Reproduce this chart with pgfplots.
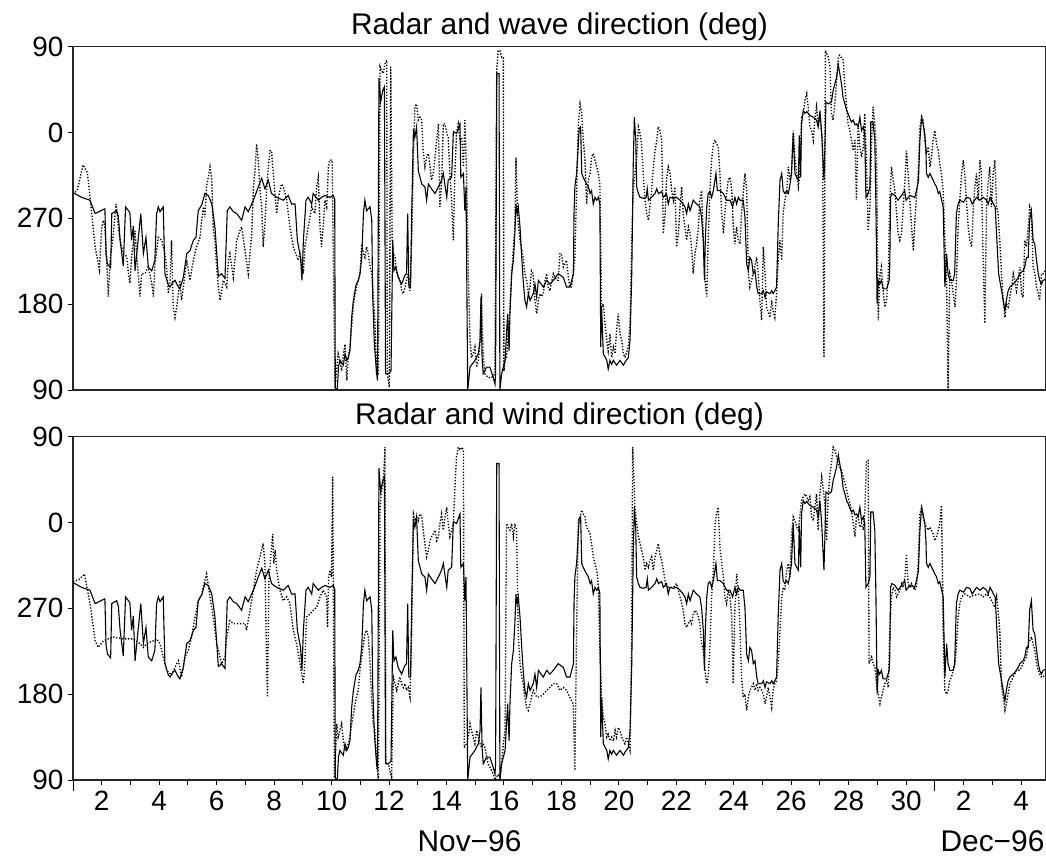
\documentclass[border=0pt]{standalone}
\usepackage{fontspec}
\setmainfont{Liberation Sans}
\usepackage{pgfplots}
\usepackage{pgfplotstable}
\pgfplotsset{compat=1.18}

% Radar direction (solid), same series in both panels; angles unwrapped to 90..450
\pgfplotstableread{
d v
1.0 297
1.3 292
1.59 289
1.77 275
2.11 280
2.15 232
2.2 222
2.31 218
2.35 275
2.52 278
2.58 272
2.64 247
2.75 220
2.83 282
2.98 276
3.04 247
3.10 262
3.16 215
3.22 233
3.36 275
3.45 233
3.54 250
3.62 219
3.74 215
3.85 226
3.91 275
3.97 282
4.03 277
4.14 282
4.20 212
4.32 200
4.38 198
4.47 203
4.55 205
4.63 200
4.72 196
4.84 208
4.96 233
5.07 236
5.19 247
5.28 250
5.36 278
5.48 284
5.59 296
5.71 294
5.83 285
5.94 261
6.06 209
6.17 212
6.29 207
6.37 278
6.46 282
6.58 277
6.70 275
6.87 268
6.99 282
7.10 277
7.22 285
7.33 293
7.45 303
7.57 312
7.68 301
7.80 310
7.91 296
8.09 292
8.32 289
8.49 294
8.61 285
8.73 285
8.81 247
8.92 229
8.97 205
9.02 247
9.11 289
9.19 292
9.31 285
9.36 296
9.54 289
9.65 292
9.77 294
9.94 292
10.06 294
10.11 290
10.13 92
10.20 90
10.24 114
10.29 121
10.41 116
10.47 128
10.53 121
10.58 124
10.64 131
10.70 166
10.76 184
10.85 200
10.93 205
10.99 212
11.05 229
11.11 275
11.16 289
11.22 278
11.34 282
11.40 268
11.43 191
11.49 138
11.57 107
11.60 100
11.65 417
11.71 392
11.78 404
11.84 408
11.88 107
11.98 107
12.07 110
12.13 247
12.17 215
12.24 219
12.32 208
12.44 201
12.55 210
12.61 212
12.65 275
12.69 198
12.75 198
12.79 275
12.85 364
12.90 355
12.96 366
13.02 320
13.14 306
13.25 303
13.31 289
13.37 306
13.48 301
13.60 296
13.72 303
13.83 310
13.89 317
14.01 292
14.06 310
14.18 313
14.24 361
14.35 359
14.47 369
14.50 313
14.59 317
14.64 278
14.68 303
14.70 233
14.74 90
14.82 114
14.99 121
15.11 128
15.17 142
15.20 187
15.24 124
15.28 107
15.40 114
15.51 114
15.63 103
15.69 96
15.71 107
15.75 422
15.83 422
15.86 90
15.92 107
16.04 121
16.13 170
16.18 131
16.21 170
16.27 212
16.33 226
16.38 254
16.42 285
16.46 275
16.50 282
16.56 261
16.62 229
16.67 205
16.73 184
16.79 177
16.85 191
16.91 184
17.02 191
17.08 201
17.14 187
17.20 205
17.37 198
17.49 205
17.60 201
17.72 205
17.89 212
18.07 208
18.18 198
18.30 198
18.42 212
18.44 275
18.47 303
18.53 317
18.62 364
18.67 366
18.71 317
18.76 313
18.88 306
18.94 303
19.00 296
19.05 299
19.11 285
19.17 292
19.23 289
19.29 292
19.34 285
19.37 135
19.40 177
19.46 128
19.58 121
19.63 112
19.69 121
19.75 117
19.81 121
19.92 116
20.04 121
20.16 116
20.21 119
20.33 124
20.39 142
20.45 212
20.50 324
20.54 376
20.59 352
20.62 303
20.68 296
20.74 292
20.85 291
20.95 292
20.99 301
21.03 289
21.14 292
21.26 296
21.32 301
21.38 296
21.49 298
21.55 292
21.66 296
21.72 285
21.78 292
21.90 291
22.01 292
22.13 289
22.24 285
22.30 282
22.36 275
22.42 285
22.48 278
22.59 289
22.71 285
22.82 282
22.88 271
22.94 247
22.98 205
23.01 247
23.06 282
23.11 296
23.17 298
23.23 292
23.29 299
23.38 317
23.43 299
23.52 299
23.64 296
23.75 289
23.87 289
23.96 282
24.04 292
24.10 285
24.16 292
24.22 289
24.33 289
24.39 271
24.45 222
24.51 215
24.56 229
24.62 226
24.68 212
24.74 215
24.80 198
24.85 191
24.97 191
25.03 194
25.09 187
25.14 193
25.26 191
25.32 194
25.37 191
25.43 194
25.49 198
25.55 264
25.61 310
25.67 317
25.72 299
25.78 296
25.84 299
25.90 296
25.96 306
26.01 317
26.07 359
26.13 317
26.19 313
26.25 310
26.28 357
26.33 313
26.36 369
26.42 383
26.48 380
26.54 382
26.59 380
26.65 378
26.77 376
26.88 373
26.94 366
27.00 383
27.06 359
27.14 310
27.17 341
27.21 392
27.29 390
27.40 392
27.46 404
27.58 418
27.64 431
27.69 422
27.75 411
27.81 396
27.87 390
27.93 383
27.98 380
28.04 375
28.10 371
28.16 373
28.22 368
28.27 369
28.33 366
28.39 376
28.45 362
28.51 366
28.56 359
28.60 292
28.68 296
28.74 303
28.77 371
28.85 371
28.91 352
28.95 282
28.99 180
29.03 205
29.08 201
29.14 205
29.20 196
29.32 196
29.41 205
29.43 219
29.46 292
29.50 296
29.61 294
29.72 289
29.84 294
29.95 299
30.00 289
30.13 294
30.30 292
30.39 303
30.43 310
30.48 352
30.54 376
30.59 369
30.65 359
30.69 341
30.71 317
30.77 313
30.83 317
30.94 310
31.00 306
31.06 303
31.12 296
31.17 298
31.29 282
31.35 198
31.41 233
31.46 212
31.52 205
31.64 205
31.69 212
31.75 275
31.81 285
31.87 289
32.00 287
32.10 292
32.22 291
32.30 285
32.45 292
32.57 289
32.68 292
32.80 289
32.86 285
32.92 292
32.98 289
33.04 285
33.10 282
33.16 247
33.22 212
33.38 184
33.44 173
33.49 184
33.55 194
33.61 198
33.73 201
33.84 205
33.90 208
33.96 212
34.07 215
34.13 219
34.19 229
34.25 229
34.30 268
34.36 278
34.42 247
34.48 243
34.54 226
34.60 212
34.65 205
34.71 201
34.77 205
34.86 206
}\radar

% Wave direction (dotted, top panel)
\pgfplotstableread{
d v
1.0 295
1.15 300
1.35 326
1.5 318
1.6 290
1.77 240
1.92 216
2.00 261
2.06 268
2.11 261
2.17 230
2.23 188
2.29 226
2.38 247
2.50 285
2.58 261
2.64 247
2.75 233
2.87 230
2.93 212
2.98 202
3.04 230
3.16 257
3.22 230
3.27 212
3.33 188
3.39 212
3.51 212
3.62 219
3.74 202
3.80 188
3.85 222
3.97 250
4.09 247
4.20 233
4.26 219
4.32 191
4.38 205
4.43 247
4.49 177
4.55 166
4.61 177
4.67 191
4.72 205
4.78 184
4.90 212
4.96 226
5.07 205
5.19 226
5.30 240
5.42 250
5.48 268
5.54 282
5.59 271
5.65 303
5.77 324
5.83 310
5.88 261
5.94 247
6.00 219
6.06 198
6.12 184
6.23 205
6.35 198
6.41 226
6.46 233
6.58 208
6.70 247
6.81 257
6.87 261
6.99 236
7.10 212
7.16 233
7.22 254
7.28 303
7.33 317
7.39 348
7.45 331
7.51 299
7.57 282
7.62 240
7.68 264
7.74 299
7.80 324
7.86 341
7.91 341
7.97 317
8.03 296
8.09 275
8.15 292
8.26 306
8.32 303
8.44 289
8.55 261
8.67 240
8.84 226
8.90 233
9.02 212
9.07 240
9.19 261
9.31 282
9.42 275
9.48 303
9.54 313
9.60 261
9.65 240
9.71 261
9.77 289
9.83 282
9.89 324
9.94 331
10.02 331
10.12 92
10.23 128
10.29 121
10.35 110
10.41 128
10.47 138
10.53 100
10.58 124
10.64 135
10.70 156
10.76 180
10.82 191
10.87 198
10.93 205
10.99 212
11.05 243
11.11 233
11.16 229
11.22 240
11.28 233
11.34 219
11.40 212
11.45 191
11.51 159
11.57 107
11.63 107
11.69 429
11.74 425
11.80 422
11.86 432
11.92 436
11.94 107
12.01 93
12.06 429
12.11 247
12.15 233
12.21 229
12.27 212
12.38 205
12.44 194
12.50 191
12.56 198
12.61 205
12.67 212
12.73 194
12.79 247
12.85 334
12.90 387
12.96 390
13.02 373
13.08 376
13.14 373
13.19 341
13.25 324
13.31 334
13.37 338
13.43 324
13.48 310
13.54 317
13.60 334
13.66 352
13.72 369
13.77 282
13.83 306
13.89 369
13.95 369
14.01 359
14.06 355
14.12 317
14.18 289
14.24 247
14.29 317
14.35 359
14.41 369
14.47 352
14.53 355
14.59 324
14.64 373
14.70 317
14.76 212
14.82 142
14.87 124
14.93 128
14.99 135
15.05 114
15.11 121
15.17 142
15.22 191
15.28 124
15.34 107
15.45 103
15.57 103
15.69 107
15.75 425
15.80 446
15.86 446
15.92 439
15.98 439
16.00 110
16.04 121
16.09 124
16.15 149
16.21 177
16.27 212
16.33 240
16.38 261
16.42 334
16.46 289
16.50 264
16.56 247
16.67 229
16.73 212
16.79 205
16.85 191
16.91 198
16.96 215
17.02 212
17.08 184
17.14 170
17.20 184
17.25 191
17.31 188
17.37 191
17.43 205
17.49 212
17.54 198
17.60 194
17.72 212
17.84 205
17.89 205
17.95 233
18.00 233
18.07 219
18.18 226
18.23 212
18.29 198
18.35 198
18.41 212
18.47 229
18.53 299
18.59 369
18.65 390
18.71 380
18.76 352
18.82 331
18.88 285
18.94 310
19.00 317
19.05 334
19.11 338
19.17 331
19.23 324
19.29 317
19.34 306
19.40 177
19.46 180
19.52 159
19.58 142
19.63 131
19.69 149
19.75 124
19.81 135
19.87 128
19.92 152
19.98 170
20.04 149
20.10 142
20.16 128
20.21 124
20.33 135
20.39 159
20.45 247
20.50 299
20.56 317
20.62 334
20.68 366
20.74 359
20.79 348
20.85 317
20.91 289
20.97 275
21.03 268
21.08 282
21.14 299
21.20 324
21.26 341
21.32 352
21.37 366
21.43 362
21.49 352
21.55 254
21.61 275
21.66 310
21.72 324
21.78 317
21.84 299
21.90 289
21.95 303
22.01 240
22.07 254
22.13 282
22.19 303
22.24 275
22.30 261
22.36 247
22.42 261
22.48 254
22.53 240
22.59 212
22.65 233
22.71 243
22.77 261
22.82 289
22.88 299
22.94 247
23.00 205
23.06 188
23.11 247
23.17 299
23.23 331
23.29 348
23.35 352
23.40 348
23.46 345
23.52 317
23.58 275
23.64 254
23.69 275
23.75 296
23.81 310
23.87 313
23.93 299
23.98 264
24.04 243
24.10 261
24.16 247
24.22 243
24.27 275
24.33 296
24.39 317
24.45 299
24.51 212
24.56 198
24.68 212
24.80 229
24.85 212
24.91 184
24.97 163
25.03 240
25.09 212
25.14 177
25.26 166
25.32 184
25.37 173
25.43 166
25.49 191
25.55 229
25.61 247
25.67 226
25.72 275
25.78 289
25.84 296
25.90 324
25.96 310
26.01 317
26.07 362
26.13 334
26.19 317
26.25 303
26.30 317
26.36 376
26.42 380
26.48 394
26.54 401
26.59 387
26.65 366
26.71 362
26.77 352
26.82 373
26.88 387
26.94 369
26.99 376
27.09 352
27.14 124
27.19 446
27.29 439
27.35 429
27.40 380
27.46 373
27.52 390
27.58 415
27.64 439
27.69 441
27.81 436
27.87 408
27.93 387
27.98 369
28.04 362
28.10 352
28.16 341
28.22 352
28.27 289
28.33 369
28.39 345
28.45 334
28.51 345
28.56 380
28.62 327
28.68 257
28.74 282
28.80 352
28.85 387
28.91 369
28.97 334
29.03 163
29.09 212
29.14 219
29.20 194
29.26 177
29.32 184
29.38 212
29.43 289
29.49 324
29.55 310
29.61 299
29.67 275
29.72 254
29.78 247
29.84 254
29.90 282
29.96 310
30.01 341
30.07 317
30.13 289
30.19 261
30.25 236
30.30 264
30.36 292
30.42 317
30.48 366
30.54 376
30.59 373
30.65 352
30.71 338
30.77 345
30.83 324
30.88 334
30.94 352
31.00 362
31.06 348
31.12 341
31.17 327
31.23 317
31.29 299
31.35 247
31.41 205
31.46 90
31.52 212
31.58 205
31.64 191
31.70 177
31.75 205
31.81 261
31.87 289
31.93 317
31.99 331
32.04 317
32.10 289
32.16 261
32.22 247
32.28 240
32.33 275
32.39 303
32.45 317
32.51 289
32.57 331
32.62 317
32.68 229
32.74 160
32.80 282
32.86 310
32.91 324
32.97 282
33.03 317
33.09 331
33.15 282
33.20 275
33.26 247
33.32 212
33.38 184
33.44 166
33.49 180
33.55 177
33.61 187
33.67 198
33.73 212
33.78 205
33.84 194
33.90 205
33.96 219
34.02 191
34.07 187
34.13 247
34.19 240
34.25 261
34.30 282
34.36 275
34.42 219
34.48 212
34.54 198
34.60 191
34.65 184
34.71 212
34.77 212
34.83 215
}\wave

% Wind direction (dotted, bottom panel)
\pgfplotstableread{
d v
1.0 298
1.2 300
1.4 306
1.59 275
1.71 250
1.77 236
1.88 229
2.06 236
2.40 240
2.75 238
3.10 238
3.33 233
3.45 229
3.57 233
3.80 236
3.91 238
4.03 233
4.14 219
4.26 205
4.43 200
4.61 212
4.67 215
4.78 198
4.90 219
5.01 226
5.13 240
5.25 261
5.36 278
5.48 285
5.59 299
5.65 306
5.77 282
5.88 261
6.00 233
6.12 219
6.17 212
6.29 219
6.35 240
6.46 257
6.58 254
6.81 254
6.99 254
7.04 247
7.16 268
7.28 289
7.39 310
7.51 324
7.62 338
7.68 317
7.74 212
7.77 177
7.82 300
7.91 334
7.95 348
7.99 317
8.04 331
8.09 310
8.20 289
8.32 278
8.44 282
8.55 275
8.67 247
8.78 233
8.90 212
9.02 191
9.07 212
9.13 261
9.25 264
9.36 268
9.48 271
9.60 282
9.71 289
9.83 282
9.86 250
9.90 303
9.94 310
10.00 303
10.04 408
10.10 92
10.18 149
10.23 135
10.29 142
10.35 149
10.41 131
10.47 121
10.53 124
10.58 128
10.64 135
10.70 149
10.76 159
10.82 170
10.87 177
10.93 184
10.99 205
11.05 219
11.11 233
11.16 243
11.22 247
11.28 240
11.34 212
11.40 173
11.45 149
11.51 142
11.57 107
11.63 90
11.69 376
11.74 394
11.80 401
11.86 439
11.89 107
11.98 107
12.03 100
12.09 93
12.15 198
12.21 191
12.27 184
12.32 191
12.38 198
12.44 191
12.50 187
12.56 191
12.61 184
12.67 187
12.73 177
12.79 247
12.85 369
12.90 362
12.96 366
13.02 362
13.08 369
13.14 366
13.19 352
13.25 338
13.31 324
13.37 331
13.43 341
13.48 345
13.54 348
13.60 352
13.66 341
13.72 345
13.77 359
13.83 369
13.89 352
13.95 366
14.01 376
14.06 359
14.12 345
14.18 352
14.24 359
14.29 394
14.35 429
14.41 439
14.47 436
14.53 439
14.59 436
14.62 124
14.70 128
14.76 135
14.82 149
14.87 142
14.93 135
14.99 128
15.05 142
15.11 135
15.17 128
15.22 124
15.28 128
15.34 124
15.40 114
15.45 107
15.57 100
15.63 96
15.69 90
15.80 96
15.86 93
15.92 107
15.98 128
16.04 142
16.09 359
16.15 355
16.21 352
16.27 359
16.33 345
16.38 359
16.44 352
16.50 240
16.56 212
16.62 198
16.67 191
16.73 177
16.79 166
16.85 163
16.91 170
17.02 184
17.14 177
17.25 177
17.37 180
17.49 184
17.60 187
17.72 191
17.84 191
17.95 184
18.07 187
18.18 184
18.29 177
18.41 170
18.47 100
18.53 247
18.59 362
18.65 366
18.71 373
18.76 369
18.82 366
18.88 355
18.94 352
19.00 348
19.05 338
19.11 324
19.17 317
19.23 310
19.29 292
19.34 229
19.40 177
19.46 156
19.52 149
19.58 135
19.63 138
19.69 131
19.75 135
19.81 131
19.87 142
19.92 135
19.98 145
20.04 142
20.10 135
20.16 131
20.21 128
20.27 135
20.33 128
20.39 121
20.42 177
20.45 247
20.48 439
20.53 404
20.56 376
20.62 359
20.68 345
20.74 338
20.79 331
20.85 324
20.91 310
20.97 317
21.03 313
21.08 320
21.14 324
21.20 310
21.26 324
21.32 331
21.37 338
21.43 327
21.49 320
21.55 310
21.61 299
21.66 292
21.78 292
21.90 292
22.01 296
22.07 289
22.13 282
22.19 275
22.24 268
22.30 254
22.36 250
22.42 254
22.48 257
22.53 254
22.59 264
22.65 268
22.71 266
22.77 261
22.82 254
22.88 233
22.94 226
23.00 205
23.06 191
23.11 198
23.17 229
23.23 282
23.29 310
23.35 359
23.40 369
23.46 376
23.52 334
23.58 317
23.64 303
23.69 282
23.75 275
23.81 289
23.87 282
23.93 261
23.98 191
24.04 268
24.10 306
24.16 289
24.22 247
24.27 198
24.33 177
24.39 180
24.45 163
24.51 177
24.56 184
24.62 187
24.68 191
24.74 184
24.80 191
24.85 184
24.91 187
24.97 184
25.03 180
25.09 170
25.14 177
25.20 187
25.26 177
25.32 166
25.37 184
25.43 191
25.49 194
25.55 212
25.61 247
25.67 282
25.72 292
25.78 289
25.84 310
25.90 317
25.96 303
26.01 345
26.07 366
26.13 362
26.19 355
26.25 352
26.30 366
26.36 383
26.42 387
26.48 390
26.54 387
26.59 383
26.65 387
26.71 366
26.77 362
26.82 376
26.88 390
26.94 352
26.99 387
27.06 408
27.11 397
27.17 380
27.23 341
27.29 387
27.35 411
27.40 422
27.46 439
27.52 436
27.58 429
27.64 422
27.69 418
27.75 415
27.81 408
27.87 401
27.93 394
27.98 387
28.04 380
28.10 373
28.16 359
28.22 345
28.27 366
28.33 366
28.39 355
28.45 359
28.51 352
28.56 369
28.62 425
28.68 425
28.71 212
28.80 219
28.85 212
28.91 208
28.97 191
29.03 180
29.09 170
29.14 177
29.20 184
29.26 191
29.32 194
29.38 187
29.43 247
29.49 282
29.55 292
29.61 289
29.67 282
29.72 285
29.78 289
29.84 296
29.90 292
29.96 303
30.01 327
30.07 296
30.13 292
30.19 296
30.25 292
30.30 289
30.36 292
30.42 317
30.48 369
30.54 376
30.59 366
30.65 359
30.71 355
30.77 352
30.83 355
30.88 352
30.94 348
31.00 341
31.06 345
31.12 352
31.17 359
31.23 378
31.27 296
31.29 247
31.35 184
31.41 180
31.46 184
31.52 194
31.58 198
31.64 205
31.70 212
31.75 229
31.81 261
31.87 275
31.93 282
32.04 285
32.22 282
32.39 284
32.57 285
32.68 282
32.80 285
32.91 282
33.03 275
33.09 271
33.15 282
33.20 268
33.26 247
33.32 191
33.38 177
33.44 163
33.49 170
33.55 180
33.61 191
33.73 198
33.84 205
33.96 205
34.07 212
34.19 219
34.25 233
34.30 236
34.36 240
34.42 233
34.48 226
34.54 212
34.60 205
34.65 201
34.71 198
34.77 198
34.83 201
}\wind

\pgfplotsset{
  panel/.style={
    scale only axis, width=973bp, height=343.3bp,
    xmin=1, xmax=34.87, ymin=90, ymax=450,
    ytick={90,180,270,360,450}, yticklabels={90,180,270,0,90},
    tick align=outside, tick pos=left,
    axis line style={black!85, line width=1.2bp},
    major tick length=5bp, minor tick length=5bp,
    every tick/.style={black, line width=0.9bp},
    tick label style={font=\fontsize{28}{31}\selectfont},
    /pgf/number format/assume math mode=true,
    yticklabel style={xshift=-1bp},
    xticklabel style={yshift=-3bp},
    clip=true,
  },
  radarline/.style={black, line width=1.1bp},
  dotline/.style={black, line width=1.35bp, dash pattern=on 1.3bp off 1.7bp},
}

\begin{document}
\begin{tikzpicture}[x=1bp,y=1bp]
\useasboundingbox (0,0) rectangle (1046,860);

\begin{axis}[panel, at={(73bp,470bp)}, anchor=south west, xtick=\empty]
  \addplot[dotline] table[x=d,y=v] {\wave};
  \addplot[radarline] table[x=d,y=v] {\radar};
\end{axis}

\begin{axis}[panel, at={(73bp,80bp)}, anchor=south west,
    xtick={2,4,...,34},
    xticklabels={2,4,6,8,10,12,14,16,18,20,22,24,26,28,30,2,4},
    minor xtick={3,5,...,33},
    extra x ticks={1,31}, extra x tick labels={},
    extra x tick style={major tick length=11bp},
  ]
  \addplot[dotline] table[x=d,y=v] {\wind};
  \addplot[radarline] table[x=d,y=v] {\radar};
\end{axis}

\node[anchor=base, font=\fontsize{30}{33}\selectfont] at (559.5,825) {Radar and wave direction (deg)};
\node[anchor=base, font=\fontsize{30}{33}\selectfont] at (559.5,435) {Radar and wind direction (deg)};
\node[anchor=base, font=\fontsize{30}{33}\selectfont] at (469.5,8) {Nov−96};
\node[anchor=base, font=\fontsize{30}{33}\selectfont] at (992.5,8) {Dec−96};
\end{tikzpicture}
\end{document}
